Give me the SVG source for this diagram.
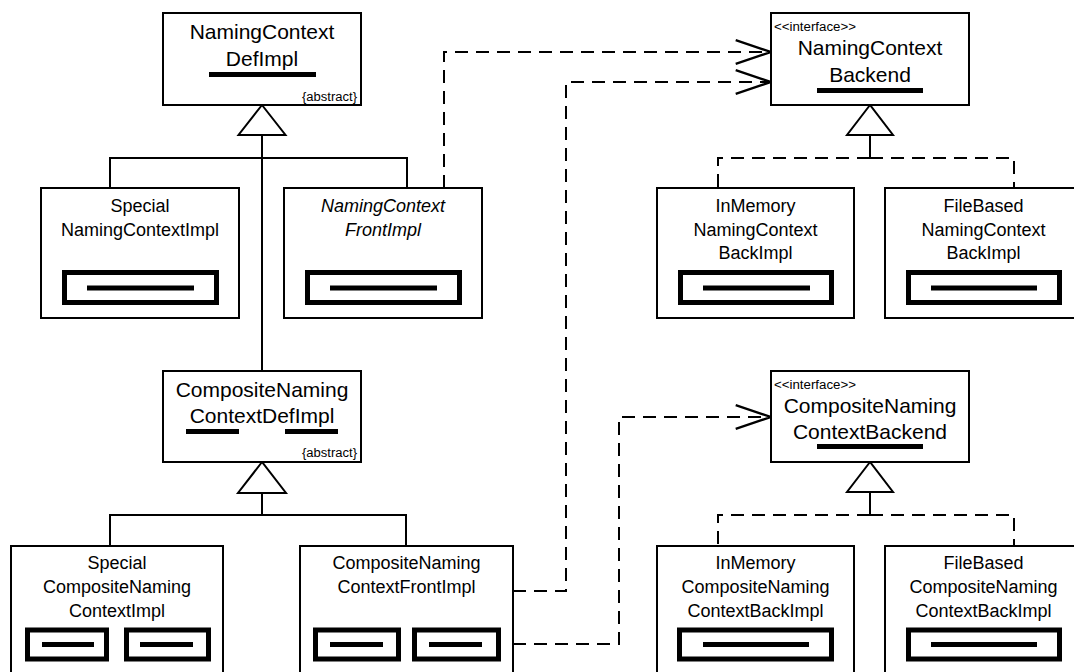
<svg xmlns="http://www.w3.org/2000/svg" width="1074" height="672" viewBox="0 0 1074 672">
<style>
.box{fill:#fff;stroke:#000;stroke-width:2}
.inner{fill:#fff;stroke:#000;stroke-width:5}
.bar{fill:#000}
.t21{font-family:"Liberation Sans",Arial,sans-serif;font-size:21px;fill:#000;text-anchor:middle}
.t18{font-family:"Liberation Sans",Arial,sans-serif;font-size:18px;fill:#000;text-anchor:middle}
.it{font-style:italic}
.small{font-family:"Liberation Sans",Arial,sans-serif;font-size:12px;fill:#000}
.solid{fill:none;stroke:#000;stroke-width:2}
.dash{fill:none;stroke:#000;stroke-width:2;stroke-dasharray:13 8}
.tri{fill:#fff;stroke:#000;stroke-width:2;stroke-linejoin:miter}
</style>
<defs>
<marker id="open" markerUnits="userSpaceOnUse" markerWidth="40" markerHeight="30" viewBox="-32 -12 34 24" refX="0" refY="0" orient="auto">
<path d="M-30,-10 L0,0 L-30,10" fill="none" stroke="#000" stroke-width="2"/>
</marker>
</defs>

<g id="connectors">
<path class="solid" d="M262,135 V371"/>
<path class="solid" d="M110,188 V158 H407 V188"/>
<path class="solid" d="M262,493 V515"/>
<path class="solid" d="M110,546 V515 H406 V546"/>
<path class="solid" d="M870,135 V158"/>
<path class="dash" d="M870,158 H718 V188"/>
<path class="dash" d="M870,158 H1014 V188"/>
<path class="solid" d="M870,492 V515"/>
<path class="dash" d="M870,515 H718 V546"/>
<path class="dash" d="M870,515 H1014 V546"/>
<path class="dash" d="M444,188 V52 H771" marker-end="url(#open)"/>
<path class="dash" d="M513,591 H566 V82 H771" marker-end="url(#open)"/>
<path class="dash" d="M513,644 H619 V417 H771" marker-end="url(#open)"/>
<polygon class="tri" points="262,105 238.5,135 285.5,135"/>
<polygon class="tri" points="262,462 238,493 286,493"/>
<polygon class="tri" points="870,105 847,135 893,135"/>
<polygon class="tri" points="870,462 847,492 893,492"/>
</g>

<g id="NamingContextDefImpl">
<rect class="box" x="163" y="13" width="198" height="92"/>
<text class="t21" x="262" y="39">NamingContext</text>
<text class="t21" x="262" y="66">DefImpl</text>
<rect class="bar" x="209" y="72" width="107" height="5"/>
<text class="small" x="357" y="101" text-anchor="end" textLength="55" lengthAdjust="spacingAndGlyphs">{abstract}</text>
</g>

<g id="NamingContextBackend">
<rect class="box" x="771" y="13" width="198" height="92"/>
<text class="small" x="774" y="31" textLength="82" lengthAdjust="spacingAndGlyphs">&lt;&lt;interface&gt;&gt;</text>
<text class="t21" x="870" y="55">NamingContext</text>
<text class="t21" x="870" y="82">Backend</text>
<rect class="bar" x="817" y="88" width="106" height="5"/>
</g>

<g id="SpecialNamingContextImpl">
<rect class="box" x="41" y="188" width="198" height="130"/>
<text class="t18" x="140" y="212">Special</text>
<text class="t18" x="140" y="236">NamingContextImpl</text>
<rect class="inner" x="64.5" y="272.5" width="152" height="30"/>
<rect class="bar" x="87" y="285.5" width="107" height="5"/>
</g>

<g id="NamingContextFrontImpl">
<rect class="box" x="284" y="188" width="198" height="130"/>
<text class="t18 it" x="383" y="212">NamingContext</text>
<text class="t18 it" x="383" y="236">FrontImpl</text>
<rect class="inner" x="307.5" y="272.5" width="152" height="30"/>
<rect class="bar" x="330" y="285.5" width="107" height="5"/>
</g>

<g id="InMemoryNamingContextBackImpl">
<rect class="box" x="657" y="188" width="197" height="130"/>
<text class="t18" x="755.5" y="212">InMemory</text>
<text class="t18" x="755.5" y="236">NamingContext</text>
<text class="t18" x="755.5" y="259">BackImpl</text>
<rect class="inner" x="680.5" y="272.5" width="151" height="30"/>
<rect class="bar" x="703" y="285.5" width="107" height="5"/>
</g>

<g id="FileBasedNamingContextBackImpl">
<rect class="box" x="885" y="188" width="197" height="130"/>
<text class="t18" x="983.5" y="212">FileBased</text>
<text class="t18" x="983.5" y="236">NamingContext</text>
<text class="t18" x="983.5" y="259">BackImpl</text>
<rect class="inner" x="908.5" y="272.5" width="151" height="30"/>
<rect class="bar" x="931" y="285.5" width="106" height="5"/>
</g>

<g id="CompositeNamingContextDefImpl">
<rect class="box" x="163" y="371" width="198" height="91"/>
<text class="t21" x="262" y="397">CompositeNaming</text>
<text class="t21" x="262" y="423">ContextDefImpl</text>
<rect class="bar" x="186" y="429" width="53" height="5"/>
<rect class="bar" x="285" y="429" width="53" height="5"/>
<text class="small" x="357" y="457" text-anchor="end" textLength="55" lengthAdjust="spacingAndGlyphs">{abstract}</text>
</g>

<g id="CompositeNamingContextBackend">
<rect class="box" x="771" y="371" width="198" height="91"/>
<text class="small" x="774" y="389" textLength="82" lengthAdjust="spacingAndGlyphs">&lt;&lt;interface&gt;&gt;</text>
<text class="t21" x="870" y="413">CompositeNaming</text>
<text class="t21" x="870" y="439">ContextBackend</text>
<rect class="bar" x="817" y="444" width="106" height="5"/>
</g>

<g id="SpecialCompositeNamingContextImpl">
<rect class="box" x="11" y="546" width="212" height="140"/>
<text class="t18" x="117" y="568.5">Special</text>
<text class="t18" x="117" y="592.5">CompositeNaming</text>
<text class="t18" x="117" y="616.5">ContextImpl</text>
<rect class="inner" x="27.5" y="630" width="79" height="29"/>
<rect class="bar" x="42" y="642" width="52" height="5"/>
<rect class="inner" x="126.5" y="630" width="82" height="29"/>
<rect class="bar" x="140" y="642" width="53" height="5"/>
</g>

<g id="CompositeNamingContextFrontImpl">
<rect class="box" x="300" y="546" width="213" height="140"/>
<text class="t18" x="406.5" y="569">CompositeNaming</text>
<text class="t18" x="406.5" y="593">ContextFrontImpl</text>
<rect class="inner" x="315.5" y="630" width="83" height="29"/>
<rect class="bar" x="330" y="642" width="53" height="5"/>
<rect class="inner" x="414.5" y="630" width="84" height="29"/>
<rect class="bar" x="429" y="642" width="53" height="5"/>
</g>

<g id="InMemoryCompositeNamingContextBackImpl">
<rect class="box" x="657" y="546" width="197" height="140"/>
<text class="t18" x="755.5" y="568.5">InMemory</text>
<text class="t18" x="755.5" y="592.5">CompositeNaming</text>
<text class="t18" x="755.5" y="616.5">ContextBackImpl</text>
<rect class="inner" x="679.5" y="630" width="152" height="29"/>
<rect class="bar" x="703" y="642" width="106" height="5"/>
</g>

<g id="FileBasedCompositeNamingContextBackImpl">
<rect class="box" x="885" y="546" width="197" height="140"/>
<text class="t18" x="983.5" y="568.5">FileBased</text>
<text class="t18" x="983.5" y="592.5">CompositeNaming</text>
<text class="t18" x="983.5" y="616.5">ContextBackImpl</text>
<rect class="inner" x="908.5" y="630" width="151" height="29"/>
<rect class="bar" x="931" y="642" width="106" height="5"/>
</g>
</svg>
